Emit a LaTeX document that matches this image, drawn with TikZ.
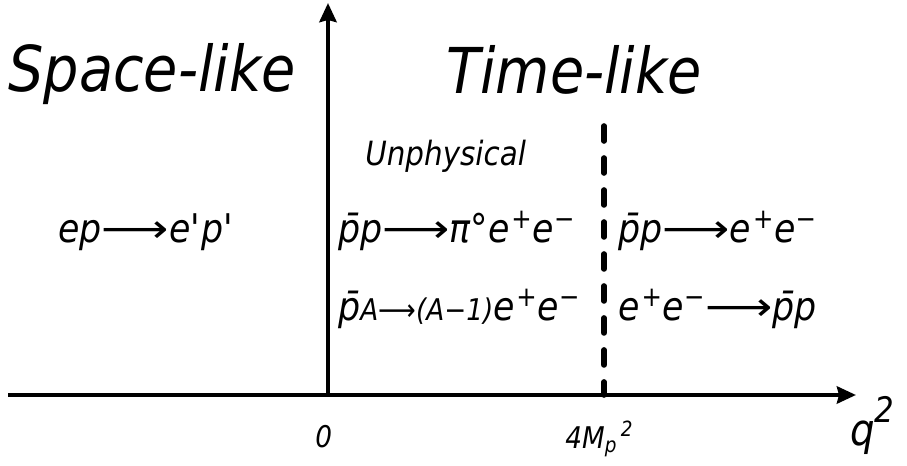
\documentclass[tikz,border=0pt]{standalone}
\usepackage{graphicx}
\usepackage{fontspec}
\setmainfont{DejaVu Sans}[FakeStretch=0.88]
\usetikzlibrary{arrows.meta}
\newcommand\rarr{\scalebox{1.35}[1]{\upshape ⟶}}
\newcommand\pb{p̄}
\newcommand\ep{e\kern1pt\textsuperscript{+}e\textsuperscript{−}}
\begin{document}
\begin{tikzpicture}[x=0.02cm, y=-0.02cm,
      axis/.style={line width=2.6pt, -{Stealth[length=0.38cm, width=0.34cm, inset=0.04cm]}},
      threshold/.style={line width=3.2pt, line cap=round, dash pattern=on 0.3cm off 0.34cm},
      region/.style={anchor=base west, inner sep=0pt, font=\fontsize{36}{40}\selectfont\itshape},
      react/.style={anchor=base west, inner sep=0pt, font=\fontsize{22.5}{26}\selectfont\itshape},
      tick/.style={anchor=base west, inner sep=0pt, font=\fontsize{17}{20}\selectfont\itshape}]
    \useasboundingbox (0,0) rectangle (907,466);
    % axes
    \coordinate (west) at (8,395);
    \coordinate (origin) at (328,395);
    \coordinate (east) at (856,395);
    \coordinate (top) at (328,3);
    \coordinate (thr) at (604,126);
    \draw[axis] (west) -- (east);
    \draw[axis] (origin) -- (top);
    \draw[threshold] (thr) -- (thr |- origin);
    % regions
    \node[region] (space) at (8,92) {Space-like};
    \node[region] (time) at (446,94) {Time-like};
    \node[anchor=base west, inner sep=0pt, font=\fontsize{19}{22}\selectfont\itshape] (unphys) at (365,166) {Unphysical};
    % reactions
    \node[react] (scat) at (58,242) {ep\rarr e\textquotesingle p\textquotesingle};
    \node[react] (dalitz) at (338,242) {\pb p\rarr π°\ep};
    \node[react] (nucl) at (338,320) {\pb{\fontsize{17}{20}\selectfont A{\upshape ⟶}(A−1)}\ep};
    \node[react] (annih) at (618,242) {\pb p\rarr\ep};
    \node[react] (prod) at (618,320) {\ep\rarr\pb p};
    % tick labels
    \node[tick] (zero) at (315,447) {0};
    \node[tick] (mp) at (565,448) {4M\textsubscript{p}\textsuperscript{\,2}};
    \node[anchor=base west, inner sep=0pt, font=\fontsize{25}{30}\selectfont\itshape] (qsq) at (850,445) {q\raisebox{0.95ex}{\fontsize{20}{22}\selectfont 2}};
\end{tikzpicture}
\end{document}
